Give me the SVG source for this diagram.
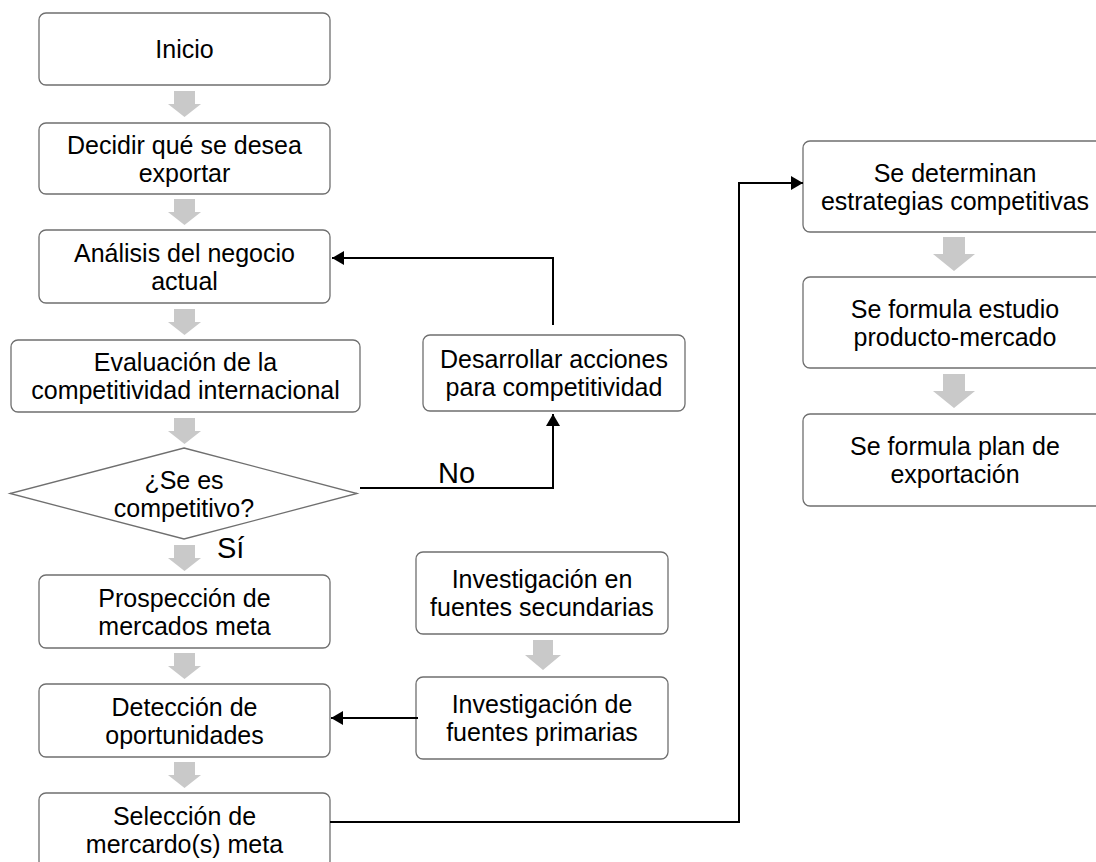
<svg xmlns="http://www.w3.org/2000/svg" width="1096" height="862" viewBox="0 0 1096 862">
<style>
.box{fill:#fff;stroke:#6f6f6f;stroke-width:1.3}
.t{font-family:"Liberation Sans",Arial,sans-serif;font-size:25px;fill:#000;text-anchor:middle}
.lbl{font-family:"Liberation Sans",Arial,sans-serif;font-size:29px;fill:#000}
.blk{fill:#c9c9c9}
.con{fill:none;stroke:#000;stroke-width:2}
</style>
<defs>
<marker id="ah" viewBox="0 0 12 14" refX="12" refY="7" markerWidth="12" markerHeight="14" markerUnits="userSpaceOnUse" orient="auto">
<path d="M0,0 L12,7 L0,14 z" fill="#000"/>
</marker>
</defs>
<rect width="1096" height="862" fill="#fff"/>

<g id="flow-arrows">
<polygon class="blk" points="174,91 195,91 195,104 201,104 184.5,117 168,104 174,104"/>
<polygon class="blk" points="174,199 195,199 195,212 201,212 184.5,225 168,212 174,212"/>
<polygon class="blk" points="174,309 195,309 195,322 201,322 184.5,335 168,322 174,322"/>
<polygon class="blk" points="174,418 195,418 195,431 201,431 184.5,444 168,431 174,431"/>
<polygon class="blk" points="174,545 195,545 195,558 201,558 184.5,571 168,558 174,558"/>
<polygon class="blk" points="174,653 195,653 195,666 201,666 184.5,679 168,666 174,666"/>
<polygon class="blk" points="174,762 195,762 195,775 201,775 184.5,788 168,775 174,775"/>
<polygon class="blk" points="533,640 553,640 553,655 561,655 543,670 525,655 533,655"/>
<polygon class="blk" points="943,237 965,237 965,254 975,254 954,271 933,254 943,254"/>
<polygon class="blk" points="943,374 965,374 965,391 975,391 954,408 933,391 943,391"/>
</g>

<g id="inicio"><rect class="box" x="39" y="13" width="291" height="72" rx="7"/><text class="t" x="184.5" y="58">Inicio</text></g>
<g id="decidir"><rect class="box" x="39" y="123" width="291" height="71" rx="7"/><text class="t" x="184.5" y="153.5">Decidir qué se desea</text><text class="t" x="184.5" y="181.5">exportar</text></g>
<g id="analisis"><rect class="box" x="39" y="230" width="291" height="73" rx="7"/><text class="t" x="184.5" y="261.5">Análisis del negocio</text><text class="t" x="184.5" y="289.5">actual</text></g>
<g id="evaluacion"><rect class="box" x="11" y="340" width="349" height="72" rx="7"/><text class="t" x="185.5" y="371">Evaluación de la</text><text class="t" x="185.5" y="399">competitividad internacional</text></g>
<g id="decision"><polygon class="box" points="184,448 357,493.5 184,539 10,493.5"/><text class="t" x="184" y="488.5">¿Se es</text><text class="t" x="184" y="516.5">competitivo?</text></g>
<g id="desarrollar"><rect class="box" x="423" y="335" width="262" height="76" rx="7"/><text class="t" x="554" y="368">Desarrollar acciones</text><text class="t" x="554" y="396">para competitividad</text></g>
<g id="prospeccion"><rect class="box" x="39" y="575" width="291" height="73" rx="7"/><text class="t" x="184.5" y="606.5">Prospección de</text><text class="t" x="184.5" y="634.5">mercados meta</text></g>
<g id="deteccion"><rect class="box" x="39" y="684" width="291" height="73" rx="7"/><text class="t" x="184.5" y="715.5">Detección de</text><text class="t" x="184.5" y="743.5">oportunidades</text></g>
<g id="seleccion"><rect class="box" x="39" y="793" width="291" height="75" rx="7"/><text class="t" x="184.5" y="824.5">Selección de</text><text class="t" x="184.5" y="852.5">mercardo(s) meta</text></g>
<g id="secundarias"><rect class="box" x="416" y="552" width="252" height="82" rx="7"/><text class="t" x="542" y="588">Investigación en</text><text class="t" x="542" y="616">fuentes secundarias</text></g>
<g id="primarias"><rect class="box" x="416" y="677" width="252" height="82" rx="7"/><text class="t" x="542" y="713">Investigación de</text><text class="t" x="542" y="741">fuentes primarias</text></g>
<g id="estrategias"><rect class="box" x="803" y="141" width="304" height="91" rx="7"/><text class="t" x="955" y="181.5">Se determinan</text><text class="t" x="955" y="209.5">estrategias competitivas</text></g>
<g id="estudio"><rect class="box" x="803" y="277" width="304" height="91" rx="7"/><text class="t" x="955" y="317.5">Se formula estudio</text><text class="t" x="955" y="345.5">producto-mercado</text></g>
<g id="plan"><rect class="box" x="803" y="414" width="304" height="92" rx="7"/><text class="t" x="955" y="455">Se formula plan de</text><text class="t" x="955" y="483">exportación</text></g>

<g id="connectors">
<polyline class="con" points="553,325 553,258 332,258" marker-end="url(#ah)"/>
<polyline class="con" points="360,488 553,488 553,414" marker-end="url(#ah)"/>
<polyline class="con" points="418,718 331,718" marker-end="url(#ah)"/>
<polyline class="con" points="330,822 739,822 739,183 803,183" marker-end="url(#ah)"/>
</g>
<text class="lbl" x="438" y="483">No</text>
<text class="lbl" x="217" y="558">Sí</text>
</svg>
